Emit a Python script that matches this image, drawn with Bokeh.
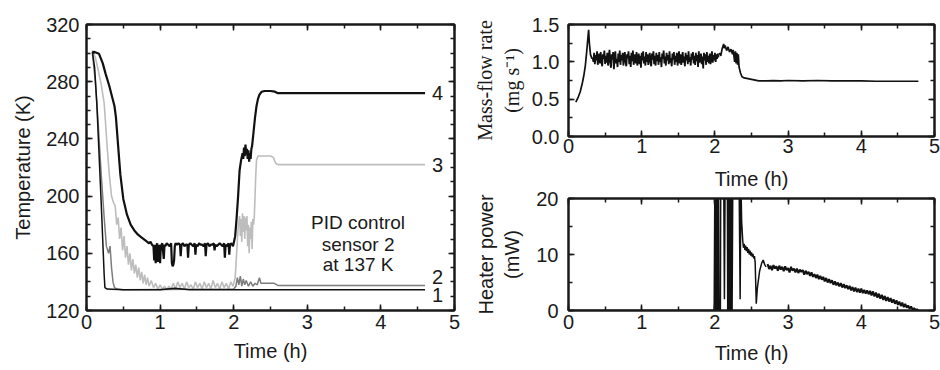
from bokeh.plotting import figure
from bokeh.models import (Range1d, LinearAxis, SingleIntervalTicker, PrintfTickFormatter,
                          CustomJSTickFormatter)
from bokeh.layouts import row, column
from bokeh.core.properties import value
from bokeh.embed import file_html
from bokeh.resources import INLINE

FONT = "Liberation Sans"
INK = "#1a1a1a"

# ---------------- Temperature panel data (time in h, T in K) ----------------
t1 = [0.08, 0.11, 0.14, 0.17, 0.20, 0.22, 0.24, 0.25, 0.28, 0.5, 1.0, 1.2, 1.4, 2.0, 2.4, 3.0, 4.6]
T1 = [301, 290, 265, 230, 195, 170, 145, 136, 135, 134.5, 134.5, 135.5, 134.5, 134.5, 134.5, 134.5, 134.5]

t2 = [0.08, 0.12, 0.16, 0.20, 0.24, 0.27, 0.30, 0.32, 0.34, 0.36, 0.38, 0.42, 0.5, 2.0, 2.03, 2.05,
      2.07, 2.09, 2.11, 2.13, 2.15, 2.17, 2.20, 2.23, 2.26, 2.29, 2.32, 2.35, 2.37, 2.45, 2.55, 2.6,
      3.0, 4.6]
T2 = [300, 280, 250, 215, 185, 165, 160, 165, 150, 140, 136, 135, 134.5, 135, 137, 143,
      138, 144, 137, 142, 138, 141, 137, 140, 137, 139, 138, 143, 139, 139, 139, 137.5,
      137.5, 137.5]

t3 = [0.08, 0.12, 0.16, 0.20, 0.24, 0.28, 0.31, 0.34, 0.37, 0.39, 0.41, 0.43, 0.45, 0.47, 0.49,
      0.51, 0.53, 0.55, 0.57, 0.59, 0.61, 0.63, 0.65, 0.67, 0.69, 0.71, 0.73, 0.75, 0.77, 0.79,
      0.81, 0.83, 0.85, 0.88, 0.91, 0.94, 0.97, 1.00, 1.03, 1.06, 1.09, 1.12, 1.15, 1.18, 1.21,
      1.24, 1.27, 1.30, 1.33, 1.36, 1.39, 1.42, 1.45, 1.48, 1.51, 1.54, 1.57, 1.60, 1.63, 1.66,
      1.69, 1.72, 1.75, 1.78, 1.81, 1.84, 1.87, 1.90, 1.93, 1.96, 1.99, 2.02, 2.04, 2.06, 2.08,
      2.09, 2.10, 2.11, 2.12, 2.13, 2.14, 2.15, 2.16, 2.17, 2.18, 2.19, 2.20, 2.21, 2.22, 2.23,
      2.24, 2.25, 2.26, 2.27, 2.28, 2.29, 2.30, 2.31, 2.33, 2.40, 2.50, 2.54, 2.57, 2.60, 3.0, 4.6]
T3 = [302, 297, 288, 278, 265, 235, 215, 200, 195, 193, 180, 185, 170, 178, 162,
      172, 157, 165, 152, 160, 148, 156, 146, 152, 143, 150, 141, 147, 139, 145,
      138, 143, 137, 141, 136, 139, 135, 138, 135, 137, 134.5, 137, 135, 139, 135,
      140, 136, 139, 135, 140, 136, 138, 135, 140, 136, 139, 135, 140, 136, 139,
      135, 141, 136, 139, 135, 140, 136, 139, 135, 140, 137, 143, 160, 178, 186,
      172, 184, 168, 188, 175, 186, 170, 185, 176, 186, 165, 180, 160, 178, 170,
      182, 163, 184, 180, 186, 200, 215, 225, 228, 228, 228, 227, 223, 222, 222, 222]

t4 = [0.08, 0.10, 0.17, 0.22, 0.26, 0.31, 0.35, 0.38, 0.40, 0.43, 0.46, 0.50, 0.55, 0.60, 0.65,
      0.70, 0.75, 0.80,
      0.85, 0.87, 0.89, 0.91, 0.92, 0.93, 0.94, 0.95, 0.96, 0.97, 0.98, 0.99, 1.00, 1.01, 1.03,
      1.05, 1.06, 1.07, 1.09, 1.11, 1.13, 1.15, 1.16, 1.17, 1.18, 1.19, 1.20, 1.21, 1.23, 1.25,
      1.27, 1.28, 1.29, 1.31, 1.33, 1.35, 1.37, 1.38, 1.39, 1.41, 1.43, 1.45, 1.47, 1.48, 1.49,
      1.51, 1.53, 1.55, 1.57, 1.59, 1.61, 1.62, 1.63, 1.65, 1.67, 1.69, 1.71, 1.73, 1.74, 1.75,
      1.77, 1.79, 1.81, 1.83, 1.85, 1.87, 1.88, 1.89, 1.91, 1.93, 1.94, 1.95, 1.97, 1.99, 2.00,
      2.02, 2.04, 2.06, 2.08, 2.10, 2.12, 2.13, 2.14, 2.15, 2.16, 2.17, 2.18, 2.19, 2.20, 2.21,
      2.22, 2.23, 2.24, 2.25, 2.27, 2.29, 2.31, 2.33, 2.35, 2.38, 2.42, 2.50, 2.56, 2.60, 2.70,
      3.5, 4.5, 4.6]
T4 = [300, 301, 299.5, 293, 285.5, 277, 269, 263, 255, 235, 215, 198, 187, 180, 176,
      173, 171, 169,
      167, 168, 166, 165, 155, 166, 153, 165, 167, 154, 164, 166, 153, 165, 167,
      156, 166, 165, 167, 166, 165, 167, 153, 151, 152, 155, 165, 167, 166, 167,
      166, 158, 166, 167, 165, 166, 166, 157, 166, 167, 166, 165, 167, 159, 166,
      165, 167, 166, 166, 165, 167, 158, 166, 167, 165, 166, 166, 167, 162, 166,
      165, 166, 167, 166, 165, 167, 157, 166, 165, 167, 159, 166, 167, 165, 167,
      172, 185, 200, 218, 225, 230, 226, 234, 228, 236, 229, 233, 226, 232, 224,
      230, 226, 233, 235, 245, 255, 263, 268, 271, 273, 273.5, 273.5, 273, 272, 272,
      272, 272, 272]

curve_tags = ["4", "3", "2", "1"]
tag_x = [4.77, 4.77, 4.77, 4.77]
tag_y = [272, 222, 143.5, 131]
note_lines = ["PID control", "sensor 2", "at 137 K"]
note_x = [3.69, 3.69, 3.69]
note_y = [181.5, 166.5, 152.5]

# ---------------- Mass-flow data (mg/s) ----------------
mf_rise_t = [0.10, 0.13, 0.16, 0.19, 0.21, 0.23, 0.25, 0.265, 0.275, 0.285, 0.30, 0.32]
mf_rise_v = [0.46, 0.52, 0.60, 0.72, 0.82, 0.95, 1.15, 1.32, 1.43, 1.25, 1.10, 1.04]

mf_plat_t = [0.33, 0.34, 0.35, 0.36, 0.37, 0.38, 0.39, 0.40, 0.41, 0.42,
             0.43, 0.44, 0.45, 0.46, 0.47, 0.48, 0.49, 0.50, 0.51, 0.52,
             0.53, 0.54, 0.55, 0.56, 0.57, 0.58, 0.59, 0.60, 0.61, 0.62,
             0.63, 0.64, 0.65, 0.66, 0.67, 0.68, 0.69, 0.70, 0.71, 0.72,
             0.73, 0.74, 0.75, 0.76, 0.77, 0.78, 0.79, 0.80, 0.81, 0.82,
             0.83, 0.84, 0.85, 0.86, 0.87, 0.88, 0.89, 0.90, 0.91, 0.92,
             0.93, 0.94, 0.95, 0.96, 0.97, 0.98, 0.99, 1.00, 1.01, 1.02,
             1.03, 1.04, 1.05, 1.06, 1.07, 1.08, 1.09, 1.10, 1.11, 1.12,
             1.13, 1.14, 1.15, 1.16, 1.17, 1.18, 1.19, 1.20, 1.21, 1.22,
             1.23, 1.24, 1.25, 1.26, 1.27, 1.28, 1.29, 1.30, 1.31, 1.32,
             1.33, 1.34, 1.35, 1.36, 1.37, 1.38, 1.39, 1.40, 1.41, 1.42,
             1.43, 1.44, 1.45, 1.46, 1.47, 1.48, 1.49, 1.50, 1.51, 1.52,
             1.53, 1.54, 1.55, 1.56, 1.57, 1.58, 1.59, 1.60, 1.61, 1.62,
             1.63, 1.64, 1.65, 1.66, 1.67, 1.68, 1.69, 1.70, 1.71, 1.72,
             1.73, 1.74, 1.75, 1.76, 1.77, 1.78, 1.79, 1.80, 1.81, 1.82,
             1.83, 1.84, 1.85, 1.86, 1.87, 1.88, 1.89, 1.90, 1.91, 1.92,
             1.93, 1.94, 1.95, 1.96, 1.97, 1.98, 1.99, 2.00, 2.01, 2.02,
             2.03, 2.04, 2.05]
mf_plat_v = [1.06, 1.00, 1.12, 0.97, 1.09, 1.02, 1.14, 0.96, 1.05, 1.11,
             0.98, 1.13, 1.01, 0.94, 1.10, 1.04, 1.15, 0.97, 1.08, 0.99,
             1.12, 0.95, 1.06, 1.16, 0.99, 0.92, 1.10, 1.03, 1.13, 0.90,
             1.07, 1.14, 0.98, 1.04, 0.93, 1.11, 1.00, 1.15, 0.96, 1.09,
             1.02, 1.12, 0.95, 1.07, 1.13, 0.99, 0.94, 1.10, 1.05, 1.14,
             0.97, 1.08, 0.93, 1.12, 1.01, 1.15, 0.96, 1.06, 1.10, 0.98,
             1.13, 0.95, 1.04, 1.11, 0.97, 1.08, 0.92, 1.12, 1.02, 1.14,
             0.98, 1.07, 0.95, 1.13, 1.00, 1.10, 0.96, 1.05, 1.12, 0.99,
             0.94, 1.11, 1.03, 1.14, 0.97, 1.08, 0.95, 1.12, 1.01, 1.09,
             0.96, 1.13, 1.00, 1.06, 0.93, 1.11, 1.04, 1.15, 0.98, 1.07,
             0.95, 1.12, 1.02, 1.09, 0.97, 1.14, 0.99, 1.05, 0.94, 1.11,
             1.03, 1.13, 0.96, 1.08, 1.00, 1.12, 0.95, 1.06, 1.14, 0.98,
             1.10, 0.96, 1.04, 1.13, 0.99, 1.07, 0.94, 1.12, 1.02, 1.09,
             0.97, 1.14, 1.00, 1.06, 0.95, 1.11, 1.03, 1.13, 0.98, 1.08,
             0.96, 1.12, 1.01, 1.09, 0.93, 1.14, 0.99, 1.05, 1.11, 0.97,
             1.07, 0.91, 1.12, 1.02, 1.10, 0.96, 1.13, 1.00, 1.08, 0.98,
             1.11, 0.97, 1.06, 1.14, 0.99, 1.09, 1.02, 1.12, 1.00, 1.10,
             1.04, 1.11, 1.06]

mf_tail_t = [2.06, 2.08, 2.10, 2.12, 2.13, 2.14, 2.16, 2.18, 2.20, 2.22, 2.24, 2.25, 2.27, 2.28,
             2.29, 2.30, 2.31, 2.32, 2.33, 2.35, 2.37, 2.40, 2.45, 2.50, 2.55, 2.60, 2.70, 2.80,
             2.90, 3.00, 3.20, 3.40, 3.60, 3.80, 4.00, 4.20, 4.40, 4.60, 4.78]
mf_tail_v = [1.12, 1.08, 1.18, 1.24, 1.18, 1.22, 1.15, 1.20, 1.13, 1.17, 1.10, 1.16, 1.00, 1.14,
             0.98, 1.12, 0.96, 1.10, 0.93, 0.85, 0.80, 0.785, 0.775, 0.765, 0.755, 0.745, 0.745, 0.748,
             0.745, 0.75, 0.745, 0.75, 0.745, 0.745, 0.745, 0.74, 0.74, 0.74, 0.74]

# ---------------- Heater power data (mW) ----------------
hp_head_t = [0.00, 1.99, 2.000, 2.005, 2.012, 2.018, 2.025, 2.030, 2.040, 2.045, 2.050, 2.055,
             2.075, 2.080, 2.120, 2.130, 2.140, 2.170, 2.175, 2.185, 2.190, 2.200, 2.205, 2.215,
             2.220, 2.230, 2.235, 2.245, 2.330, 2.345, 2.355, 2.365, 2.38, 2.39, 2.40, 2.41, 2.42,
             2.43, 2.44, 2.45, 2.46, 2.47, 2.48, 2.49, 2.50, 2.51, 2.52, 2.53, 2.54, 2.55,
             2.565, 2.58, 2.61, 2.64, 2.66, 2.68, 2.70]
hp_head_v = [0.0, 0.0, 24, 0.0, 24, 0.0, 24, 0.0, 24, 0.0, 24, 0.0,
             0.0, 24, 24, 2.0, 24, 24, 0.0, 24, 0.0, 24, 0.0, 24,
             0.0, 24, 0.0, 24, 24, 2.0, 24, 16, 12.5, 11.2, 11.9, 10.8, 11.6,
             10.6, 11.3, 10.3, 11.0, 10.0, 10.7, 9.8, 10.4, 9.6, 10.1, 9.3, 9.7, 8.6,
             1.2, 4.0, 7.0, 8.5, 9.0, 8.2, 7.8]

hp_tail_t = [2.72, 2.74, 2.76, 2.78, 2.80, 2.82, 2.84, 2.86, 2.88, 2.90,
             2.92, 2.94, 2.96, 2.98, 3.00, 3.02, 3.04, 3.06, 3.08, 3.10,
             3.12, 3.14, 3.16, 3.18, 3.20, 3.22, 3.24, 3.26, 3.28, 3.30,
             3.32, 3.34, 3.36, 3.38, 3.40, 3.42, 3.44, 3.46, 3.48, 3.50,
             3.52, 3.54, 3.56, 3.58, 3.60, 3.62, 3.64, 3.66, 3.68, 3.70,
             3.72, 3.74, 3.76, 3.78, 3.80, 3.82, 3.84, 3.86, 3.88, 3.90,
             3.92, 3.94, 3.96, 3.98, 4.00, 4.02, 4.04, 4.06, 4.08, 4.10,
             4.12, 4.14, 4.16, 4.18, 4.20, 4.22, 4.24, 4.26, 4.28, 4.30,
             4.32, 4.34, 4.36, 4.38, 4.40, 4.42, 4.44, 4.46, 4.48, 4.50,
             4.52, 4.54, 4.56, 4.58, 4.60, 4.62, 4.64, 4.66, 4.68, 4.70,
             4.72, 4.74, 4.76, 4.78]
hp_tail_v = [8.3, 7.4, 8.0, 7.2, 8.1, 7.5, 7.9, 7.1, 8.0, 7.3,
             7.8, 7.0, 7.9, 7.2, 7.6, 6.8, 7.8, 7.1, 7.5, 6.8,
             7.5, 6.7, 7.3, 6.9, 7.2, 6.4, 7.1, 6.5, 6.9, 6.2,
             6.8, 6.0, 6.5, 5.8, 6.4, 5.6, 6.2, 5.5, 6.0, 5.2,
             5.8, 5.0, 5.6, 4.9, 5.4, 4.6, 5.2, 4.5, 5.0, 4.3,
             4.9, 4.1, 4.7, 4.0, 4.5, 3.8, 4.4, 3.6, 4.2, 3.4,
             4.1, 3.3, 3.9, 3.2, 3.9, 3.1, 3.7, 3.0, 3.6, 2.9,
             3.5, 2.7, 3.4, 2.5, 3.2, 2.3, 3.0, 2.1, 2.8, 1.9,
             2.6, 1.7, 2.4, 1.6, 2.2, 1.4, 2.0, 1.2, 1.8, 1.0,
             1.6, 0.8, 1.4, 0.6, 1.2, 0.5, 0.9, 0.3, 0.7, 0.2,
             0.4, 0.1, 0.2, 0.0]


def style_axis(ax, size="20px"):
    ax.axis_line_color = INK
    ax.axis_line_width = 2
    ax.major_tick_line_color = INK
    ax.minor_tick_line_color = INK
    ax.major_tick_line_width = 1.5
    ax.minor_tick_line_width = 1.5
    ax.major_tick_in = 6
    ax.major_tick_out = 0
    ax.minor_tick_in = 4
    ax.minor_tick_out = 0
    ax.major_label_text_font = FONT
    ax.major_label_text_font_size = size
    ax.major_label_text_color = INK
    ax.axis_label_text_font = FONT
    ax.axis_label_text_font_size = "20px"
    ax.axis_label_text_font_style = "normal"
    ax.axis_label_text_color = INK


def make_fig(w, h, xr, yr, xtick, ytick, borders, margin=None):
    kw = dict(width=w, height=h, x_range=Range1d(*xr), y_range=Range1d(*yr),
              output_backend="svg", toolbar_location=None,
              min_border_left=borders[0], min_border_right=borders[1],
              min_border_top=borders[2], min_border_bottom=borders[3])
    if margin is not None:
        kw["margin"] = margin
    p = figure(**kw)
    p.xgrid.visible = False
    p.ygrid.visible = False
    p.outline_line_color = INK
    p.outline_line_width = 2
    p.border_fill_color = None
    p.background_fill_color = None
    xb = p.below[0]
    yl = p.left[0]
    xb.ticker = xtick
    yl.ticker = ytick
    style_axis(xb)
    style_axis(yl)
    for loc, tk in (("above", xtick), ("right", ytick)):
        ax = LinearAxis(ticker=tk, formatter=CustomJSTickFormatter(code="return ''"))
        style_axis(ax, size="1px")
        ax.major_label_standoff = 0
        p.add_layout(ax, loc)
    return p, xb, yl


# ---------------- Left: temperatures ----------------
pT, pTx, pTy = make_fig(470, 370, (0, 5), (120, 320),
                        SingleIntervalTicker(interval=1, num_minor_ticks=2),
                        SingleIntervalTicker(interval=40, num_minor_ticks=4),
                        (86, 16, 24, 60))
pTx.axis_label = "Time (h)"
pTy.axis_label = "Temperature (K)"
pTx.major_label_standoff = 4
pTx.axis_label_standoff = 8
pTy.major_label_standoff = 7
pTy.axis_label_standoff = 9

pT.line(t3, T3, line_color="#bdbdbd", line_width=1.6)
pT.line(t2, T2, line_color="#7d7d7d", line_width=1.5)
pT.line(t1, T1, line_color="#111111", line_width=1.5)
pT.line(t4, T4, line_color="#111111", line_width=2.2)

pT.text(x=tag_x, y=tag_y, text=curve_tags, text_font=value(FONT), text_font_size="20px",
        text_color=INK, text_align="center", text_baseline="middle")
pT.text(x=note_x, y=note_y, text=note_lines, text_font=value(FONT), text_font_size="19px",
        text_color=INK, text_align="center", text_baseline="middle")

# ---------------- Right top: mass flow ----------------
pM, pMx, pMy = make_fig(470, 200, (0, 5), (0, 1.5),
                        SingleIntervalTicker(interval=1, num_minor_ticks=2),
                        SingleIntervalTicker(interval=0.5, num_minor_ticks=2),
                        (98, 6, 24, 64))
pMy.formatter = PrintfTickFormatter(format="%.1f")
pMx.axis_label = "Time (h)"
pMy.axis_label = "Mass-flow rate\n(mg s\u207b\u00b9)"
pMy.axis_label_text_font = "Liberation Sans Narrow"
pMx.major_label_standoff = 2
pMx.axis_label_standoff = 12
pMy.major_label_standoff = 9
pMy.axis_label_standoff = 6
pM.line(mf_rise_t, mf_rise_v, line_color="#111111", line_width=1.7)
pM.line(mf_plat_t, mf_plat_v, line_color="#111111", line_width=1.8)
pM.line(mf_tail_t, mf_tail_v, line_color="#111111", line_width=1.7)

# ---------------- Right bottom: heater power ----------------
pH, pHx, pHy = make_fig(470, 185, (0, 5), (0, 20),
                        SingleIntervalTicker(interval=1, num_minor_ticks=2),
                        SingleIntervalTicker(interval=10, num_minor_ticks=2),
                        (98, 6, 13, 60), margin=(-15, 0, 0, 0))
pHx.axis_label = "Time (h)"
pHy.axis_label = "Heater power\n(mW)"
pHx.major_label_standoff = 4
pHx.axis_label_standoff = 10
pHy.major_label_standoff = 10
pHy.axis_label_standoff = 10
pH.line(hp_head_t, hp_head_v, line_color="#111111", line_width=1.5)
pH.line(hp_tail_t, hp_tail_v, line_color="#111111", line_width=2.0)

layout = row(pT, column(pM, pH, spacing=0), spacing=0)
open("out.html", "w").write(file_html(layout, INLINE))
